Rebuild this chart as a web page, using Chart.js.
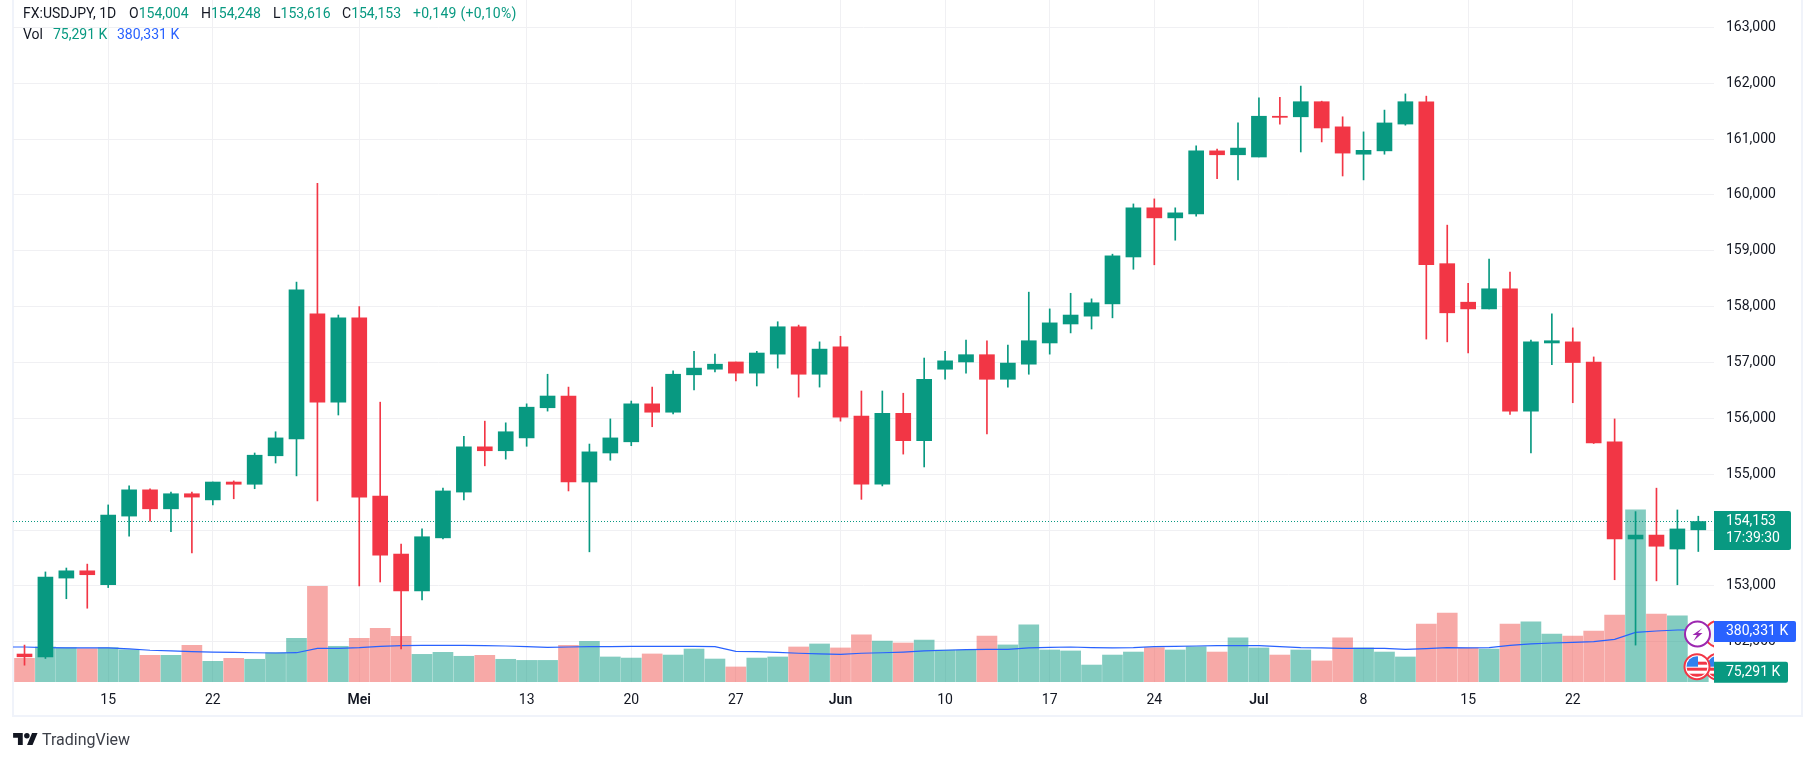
<!DOCTYPE html>
<html>
<head>
<meta charset="utf-8">
<title>FX:USDJPY</title>
<script src="https://cdn.jsdelivr.net/npm/chart.js@4"></script>
<style>
	html, body { margin:0; padding:0; background:#fff; width:1814px; height:761px; overflow:hidden; }
	body { position:relative; font-family:Roboto, sans-serif; font-size:14px; color:#131722; }
	#frame { position:absolute; left:12px; top:0; width:1787px; height:715px; border-left:2px solid #f0f3fa; border-right:2px solid #f0f3fa; border-bottom:2px solid #f0f3fa; }
	canvas { position:absolute; left:0; top:0; }
	.lg { position:absolute; white-space:nowrap; line-height:16px; }
	.up { color:#089981; }
	.ma { color:#2962ff; }
	#logo { position:absolute; left:13px; top:732.7px; }
	#brand { position:absolute; left:42px; top:730px; font-size:16px; line-height:20px; color:#3d4049; }
</style>
</head>
<body>
<div id="frame"></div>
<canvas id="chart_usdjpy" width="1814" height="761"></canvas>

<div class="lg" style="left:23px;top:5px">FX:USDJPY, 1D</div>
<div class="lg" style="left:129px;top:5px">O<span class="up">154,004</span></div>
<div class="lg" style="left:201px;top:5px">H<span class="up">154,248</span></div>
<div class="lg" style="left:273px;top:5px">L<span class="up">153,616</span></div>
<div class="lg" style="left:342px;top:5px">C<span class="up">154,153</span></div>
<div class="lg up" style="left:413px;top:5px;letter-spacing:0.25px">+0,149 (+0,10%)</div>
<div class="lg" style="left:23px;top:26px">Vol</div>
<div class="lg up" style="left:53px;top:26px">75,291 K</div>
<div class="lg ma" style="left:117px;top:26px">380,331 K</div>

<svg id="logo" width="25" height="12.4" viewBox="0 4 36 18"><path fill="#131722" d="M14 22H7V11H0V4h14v18zM28 22h-8l7.5-18h8L28 22z"/><circle fill="#131722" cx="20" cy="8" r="4"/></svg>
<div id="brand">TradingView</div>

<script>
		// daily candles, 9 Apr - 30 Jul
		var opens=[151.78,151.73,153.14,153.27,153.02,154.25,154.72,154.38,154.65,154.54,154.86,154.82,155.33,155.63,157.87,156.29,157.80,154.61,153.57,152.91,
			153.86,154.68,155.49,155.42,155.65,156.19,156.40,154.86,155.38,155.58,156.26,156.11,156.78,156.88,157.01,156.81,157.15,157.64,156.79,157.28,
			156.04,154.82,156.09,155.60,156.88,157.01,157.14,156.70,156.97,157.35,157.69,157.83,158.05,158.89,159.77,159.59,159.66,160.79,160.72,160.68,
			161.41,161.40,161.67,161.22,160.73,160.79,161.27,161.67,158.77,158.08,157.96,158.32,156.13,157.35,157.37,157.01,155.58,153.84,153.91,153.66,154.004];
		var highs=[151.94,153.25,153.32,153.39,154.45,154.79,154.74,154.68,154.68,154.86,154.88,155.38,155.76,158.44,160.21,157.85,158.00,156.29,153.75,154.02,
			154.75,155.68,155.95,155.92,156.26,156.79,156.56,155.54,155.99,156.31,156.56,156.85,157.20,157.15,157.01,157.20,157.73,157.67,157.37,157.47,
			156.49,156.49,156.45,157.08,157.20,157.40,157.39,157.31,158.26,157.96,158.24,158.14,158.94,159.84,159.93,159.77,160.88,160.82,161.29,161.74,
			161.75,161.95,161.68,161.40,161.13,161.52,161.81,161.77,159.46,158.42,158.85,158.62,157.40,157.87,157.62,157.10,155.99,154.33,154.75,154.36,154.248];
		var lows=[151.58,151.70,152.77,152.60,152.97,153.89,154.16,153.97,153.59,154.45,154.56,154.74,155.20,154.97,154.52,156.06,153.00,153.07,151.87,152.75,
			153.84,154.54,155.15,155.27,155.50,156.13,154.70,153.61,155.25,155.51,155.85,156.08,156.51,156.83,156.67,156.58,156.90,156.38,156.56,155.95,
			154.55,154.79,155.36,155.13,156.70,156.81,155.72,156.56,156.79,157.15,157.53,157.60,157.80,158.67,158.75,159.19,159.62,160.29,160.27,160.68,
			161.27,160.77,160.95,160.34,160.27,160.73,161.25,157.42,157.37,157.17,157.96,156.07,155.38,156.96,156.28,155.55,153.11,151.94,153.09,153.02,153.616];
		var closes=[151.73,153.16,153.27,153.20,154.27,154.72,154.38,154.65,154.59,154.86,154.82,155.34,155.65,158.30,156.29,157.80,154.59,153.55,152.91,153.88,
			154.70,155.49,155.42,155.76,156.20,156.40,154.86,155.40,155.65,156.26,156.11,156.79,156.90,156.97,156.81,157.17,157.64,156.79,157.24,156.02,
			154.82,156.09,155.60,156.70,157.03,157.14,156.70,156.99,157.39,157.71,157.85,158.07,158.91,159.77,159.59,159.68,160.79,160.72,160.84,161.41,
			161.39,161.67,161.20,160.75,160.80,161.29,161.67,158.75,157.89,157.96,158.32,156.13,157.37,157.39,157.00,155.56,153.84,153.91,153.71,154.02,154.153];
		var volumes=[173,256,251,244,251,236,195,195,268,151,173,166,214,319,699,261,319,392,334,202,
			217,188,195,166,158,158,268,297,183,175,205,197,241,168,110,175,183,256,278,249,
			344,300,285,307,234,234,336,271,417,234,227,124,197,219,251,234,258,219,322,249,
			197,234,154,322,249,219,183,424,504,249,241,424,439,351,336,373,490,1258,497,483,75.291];
		// moving average of the volume, first value sits one day left of the first candle
		var volMA=[256,256,251,249,249,249,242,232,227,222,219,217,214,212,214,246,246,251,261,266,268,
			268,268,266,263,258,253,256,258,258,261,261,261,261,258,224,222,217,210,205,202,
			210,214,219,227,232,236,239,239,249,253,256,251,249,251,258,261,263,266,266,266,
			258,251,249,246,246,246,239,244,251,249,251,268,278,285,290,295,312,363,373,380,380.331];

		var xTicks=[4,9,16,24,29,34,39,44,49,54,59,64,69,74];
		var xTickLabels=['15','22','Mei','13','20','27','Jun','10','17','24','Jul','8','15','22'];
		var xMajor=['Mei','Jun','Jul'];
		var yTicks=[152,153,154,155,156,157,158,159,160,161,162,163];
		var yTickLabels=['152,000','153,000','','155,000','156,000','157,000','158,000','159,000','160,000','161,000','162,000','163,000'];

		var lastPrice=154.153, lastVol=75.291, lastMA=380.331;
		var colUp='#089981', colDown='#f23645', colUpVol='rgba(8,153,129,0.5)', colDownVol='rgba(239,83,80,0.5)', colMA='#2962ff';
		var xMin=-0.55, xMax=80.75;

		var bodyData=[], wickData=[], volData=[], maData=[], candleCol=[], volCol=[];
		for(var i in opens){
			var n=Number(i);
			bodyData.push({x:n,y:[opens[n],closes[n]]});
			wickData.push({x:n,y:[lows[n],highs[n]]});
			volData.push({x:n,y:volumes[n]});
			candleCol.push(closes[n]>=opens[n] ? colUp : colDown);
			volCol.push(closes[n]>=opens[n] ? colUpVol : colDownVol);
		}
		for(var j in volMA){
			maData.push({x:Number(j)-1,y:volMA[j]});
		}

		function tagShape(ctx,x,y,w,h,col){
			ctx.fillStyle=col;
			ctx.beginPath();
			ctx.roundRect(x,y,w,h,[0,2,2,0]);
			ctx.fill();
		}
		function ring(ctx,x,y,r,stroke,fill){
			ctx.beginPath();
			ctx.arc(x,y,r,0,Math.PI*2);
			ctx.fillStyle=fill;
			ctx.fill();
			ctx.lineWidth=2;
			ctx.strokeStyle=stroke;
			ctx.stroke();
		}
		function flagRing(ctx,x,y,r){
			ring(ctx,x,y,r,'#f23645','#fff');
			ctx.save();
			ctx.beginPath();
			ctx.arc(x,y,r-2,0,Math.PI*2);
			ctx.clip();
			ctx.fillStyle='#f23645';
			ctx.fillRect(x-r,y+1,2*r,3);
			ctx.fillRect(x-r,y+7,2*r,3);
			ctx.fillRect(x+1,y-5,r,3);
			ctx.fillStyle='#2f80ed';
			ctx.fillRect(x-r,y-r,r+1,r);
			ctx.restore();
		}

		var tagsPlugin={
			id:'tags',
			afterDraw:function(chart){
				var ctx=chart.ctx, a=chart.chartArea, sy=chart.scales.y, sv=chart.scales.y2;
				var yPrice=sy.getPixelForValue(lastPrice), yVol=sv.getPixelForValue(lastVol), yMA=sv.getPixelForValue(lastMA);
				ctx.save();
				// event bubbles, they slide under the price axis
				ctx.save();
				ctx.beginPath();
				ctx.rect(a.left,a.top,a.right-a.left,a.bottom-a.top);
				ctx.clip();
				ring(ctx,1718,yMA+4,13,'#f23645','#f0f3fa');
				ring(ctx,1697.5,yMA+4,12.5,'#9c27b0','#fff');
				ctx.fillStyle='#9c27b0';
				ctx.beginPath();
				var bx=1697.5, by=yMA+4;
				ctx.moveTo(bx+5,by-6); ctx.lineTo(bx-5,by+1); ctx.lineTo(bx-0.5,by+1); ctx.lineTo(bx-4,by+7); ctx.lineTo(bx+5,by-1); ctx.lineTo(bx+0.5,by-1);
				ctx.closePath();
				ctx.fill();
				flagRing(ctx,1718,yVol-5,13);
				flagRing(ctx,1697,yVol-5,12.5);
				ctx.restore();

				tagShape(ctx,a.right,yPrice-10.5,77,39,colUp);
				tagShape(ctx,a.right,yMA-9,82,21,colMA);
				tagShape(ctx,a.right,yVol-10,74,21,colUp);
				ctx.font='14px Roboto';
				ctx.textBaseline='middle';
				ctx.textAlign='left';
				ctx.fillStyle='#fff';
				ctx.fillText('154,153',a.right+12,yPrice-0.5);
				ctx.fillText('17:39:30',a.right+12,yPrice+17);
				ctx.fillText('380,331 K',a.right+12,yMA+1.5);
				ctx.fillText('75,291 K',a.right+12,yVol+0.5);
				ctx.restore();
			}
		};

		var configUsdJpy={
			type:'bar',
			data:{
				datasets:[
					{type:'bar',label:'body',data:bodyData,backgroundColor:candleCol,barThickness:15,grouped:false,order:1},
					{type:'bar',label:'wick',data:wickData,backgroundColor:candleCol,barThickness:1,grouped:false,order:2},
					{type:'line',label:'Vol MA',data:maData,yAxisID:'y2',borderColor:colMA,borderWidth:1.2,pointRadius:0,tension:0,order:3},
					{type:'line',label:'last',data:[{x:xMin,y:lastPrice},{x:xMax,y:lastPrice}],borderColor:colUp,borderWidth:1,borderDash:[1,2],pointRadius:0,order:4},
					{type:'bar',label:'Vol',data:volData,yAxisID:'y2',backgroundColor:volCol,barThickness:20,grouped:false,order:5}
				]
			},
			options:{
				responsive:false,
				devicePixelRatio:1,
				animation:false,
				layout:{padding:{left:13,top:0,right:13,bottom:44}},
				plugins:{legend:{display:false},title:{display:false},tooltip:{enabled:false}},
				scales:{
					x:{
						type:'linear',
						offset:false,
						min:xMin,
						max:xMax,
						grid:{color:'#f0f0f3',drawTicks:false,offset:false},
						border:{display:false},
						afterBuildTicks:function(s){
							s.ticks=xTicks.map(function(v,k){return {value:v,major:xMajor.indexOf(xTickLabels[k])!=-1};});
						},
						afterFit:function(s){s.height=35;s.paddingLeft=0;s.paddingRight=0;},
						ticks:{
							autoSkip:false,
							maxRotation:0,
							padding:10,
							color:'#131722',
							font:function(c){return {family:'Roboto',size:14,weight:c.tick&&c.tick.major?'600':'400'};},
							callback:function(v){return xTickLabels[xTicks.indexOf(v)];}
						}
					},
					y:{
						position:'right',
						min:151.279,
						max:163.4915,
						grid:{color:'#f0f0f3',drawTicks:false},
						border:{display:false},
						afterBuildTicks:function(s){
							s.ticks=yTicks.map(function(v){return {value:v};});
						},
						afterFit:function(s){s.width=87;s.paddingTop=0;s.paddingBottom=0;},
						ticks:{
							autoSkip:false,
							padding:12,
							color:'#131722',
							font:{family:'Roboto',size:14},
							callback:function(v){return yTickLabels[yTicks.indexOf(v)];}
						}
					},
					y2:{type:'linear',display:false,min:0,max:4985.4}
				}
			},
			plugins:[tagsPlugin]
		};

		var ctx_usdjpy=document.getElementById('chart_usdjpy').getContext('2d');
		new Chart(ctx_usdjpy,configUsdJpy);
</script>
</body>
</html>
